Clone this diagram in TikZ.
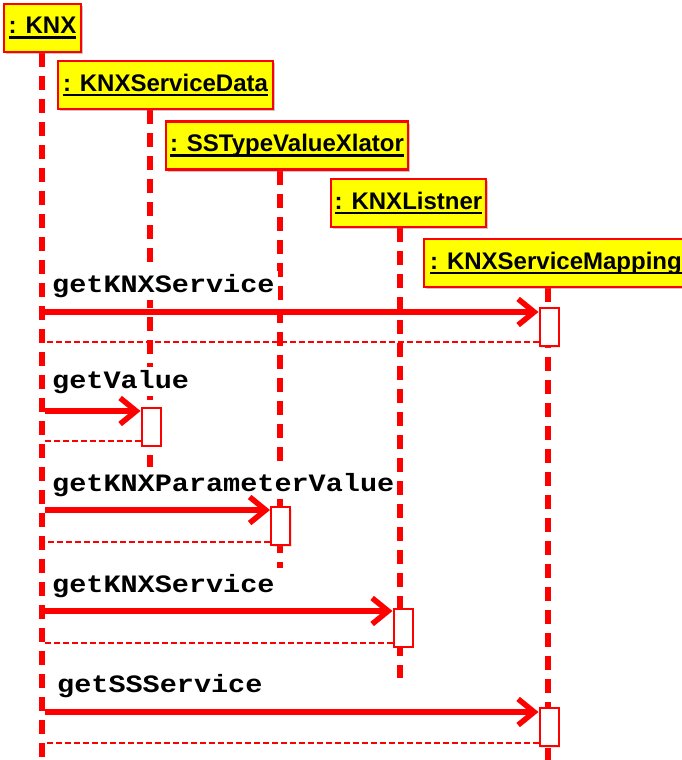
\documentclass[tikz,border=0pt]{standalone}
\usepackage{fontspec}
\setmainfont{Liberation Sans}
\newfontfamily\objfont{Liberation Sans}
\newfontfamily\msgfont[FakeStretch=1.14]{Liberation Mono}
\usetikzlibrary{arrows.meta,shadows}
\newcommand\objul[1]{\setbox0\hbox{#1}\rlap{\rule[-5pt]{\wd0}{2.4pt}}\box0}
\definecolor{objyellow}{RGB}{255,255,0}
\definecolor{umlred}{RGB}{255,0,0}
\begin{document}
\begin{tikzpicture}[x=1pt,y=-1pt,
  obj/.style={draw=umlred, line width=2.2pt, fill=objyellow, minimum height=48pt, inner sep=0pt,
    font=\objfont\bfseries\fontsize{24}{28}\selectfont,
    drop shadow={opacity=0.25, shadow xshift=2pt, shadow yshift=-2pt}},
  lifeline/.style={draw=umlred, line width=5.5pt, dash pattern=on 14pt off 9pt},
  act/.style={draw=umlred, fill=white, line width=2pt, minimum width=19pt, minimum height=38pt, inner sep=0pt,
    drop shadow={opacity=0.2, shadow xshift=1.5pt, shadow yshift=-1.5pt}},
  msg/.style={draw=umlred, line width=5.5pt, -{Straight Barb[length=16pt,width=26pt]}},
  ret/.style={draw=umlred, line width=2.5pt, dash pattern=on 6pt off 3pt},
  lbl/.style={fill=white, inner sep=3pt, anchor=base west,
    font=\msgfont\bfseries\fontsize{25}{28}\selectfont}
]
\useasboundingbox (0,0) rectangle (681,760);

% lifeline end points
\coordinate (b1) at (42,760);
\coordinate (b2) at (150,467);
\coordinate (b3) at (280,568);
\coordinate (b4) at (400,678);
\coordinate (b5) at (548,760);

% object boxes
\node[obj, minimum width=77pt]  (o1) at (42.5,28)  {\objul{: KNX}};
\node[obj, minimum width=215pt] (o2) at (165.5,85) {\objul{: KNXServiceData}};
\node[obj, minimum width=242pt] (o3) at (287,145.5) {\objul{: SSTypeValueXlator}};
\node[obj, minimum width=155pt] (o4) at (408.5,203) {\objul{: KNXListner}};
\node[obj, minimum width=264pt] (o5) at (556,263) {\objul{: KNXServiceMapping}};

% lifelines
\draw[lifeline] (o1.south -| b1) -- (b1);
\draw[lifeline] (o2.south -| b2) -- (b2);
\draw[lifeline] (o3.south -| b3) -- (b3);
\draw[lifeline] (o4.south -| b4) -- (b4);
\draw[lifeline] (o5.south -| b5) -- (b5);

% redraw boxes on top of lifelines
\node[obj, minimum width=77pt]  at (o1) {\objul{: KNX}};
\node[obj, minimum width=215pt] at (o2) {\objul{: KNXServiceData}};
\node[obj, minimum width=242pt] at (o3) {\objul{: SSTypeValueXlator}};
\node[obj, minimum width=155pt] at (o4) {\objul{: KNXListner}};
\node[obj, minimum width=264pt] at (o5) {\objul{: KNXServiceMapping}};

% message labels
\node[lbl] (l1) at (49,292) {getKNXService};
\node[lbl] (l2) at (49,388) {getValue};
\node[lbl] (l3) at (49,491) {getKNXParameterValue};
\node[lbl] (l4) at (49,592) {getKNXService};
\node[lbl] (l5) at (54,692) {getSSService};

% activations
\node[act] (a1) at (549,327) {};
\node[act] (a2) at (151,426.5) {};
\node[act] (a3) at (280.5,526) {};
\node[act] (a4) at (403,627.5) {};
\node[act] (a5) at (549,727) {};

% message start / return end points on the KNX lifeline
\coordinate (s1) at (45,312);
\coordinate (s2) at (45,411);
\coordinate (s3) at (45,510);
\coordinate (s4) at (45,611);
\coordinate (s5) at (45,712);
\coordinate (r1) at (45,342);
\coordinate (r2) at (45,441);
\coordinate (r3) at (45,542);
\coordinate (r4) at (45,643);
\coordinate (r5) at (45,743);

\foreach \i in {1,...,5}{
  \draw[msg] (s\i) -- (a\i.west |- s\i);
  \draw[ret] (a\i.west |- r\i) -- (r\i);
}
\end{tikzpicture}
\end{document}
